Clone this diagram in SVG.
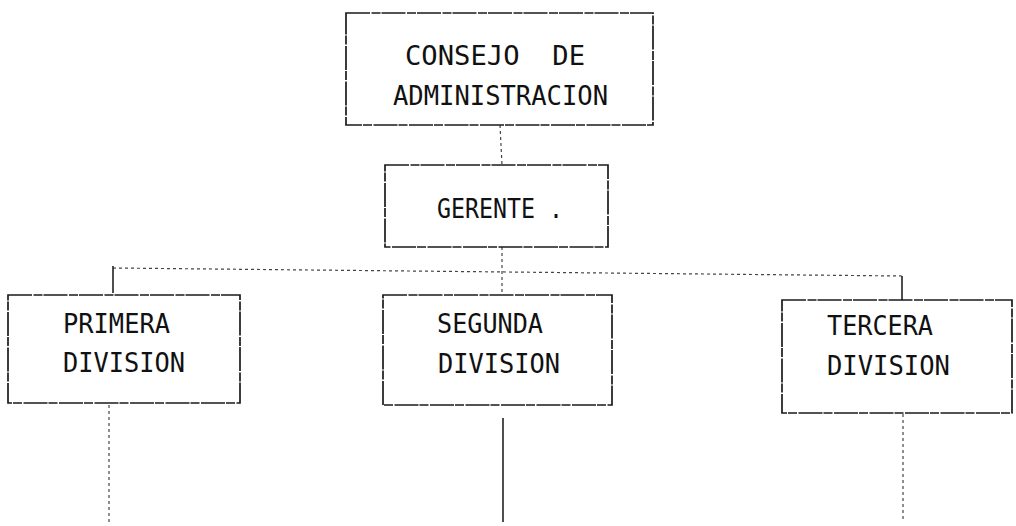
<svg xmlns="http://www.w3.org/2000/svg" width="1016" height="526" viewBox="0 0 1016 526">
<style>
.box{fill:none;stroke:#1a1a1a;stroke-width:1.7;stroke-dasharray:24 1.5 9 1}
.lbl{font-family:"DejaVu Sans Mono","Liberation Mono",monospace;font-size:26px;fill:#111}
.con{fill:none;stroke:#444;stroke-width:1.2;stroke-dasharray:3 3}
.conS{fill:none;stroke:#222;stroke-width:1.6}
</style>
<rect width="1016" height="526" fill="#ffffff"/>
<g id="connectors">
<line class="con" x1="500" y1="125" x2="502" y2="165"/>
<line class="con" x1="502" y1="247" x2="502" y2="295"/>
<line class="con" x1="113" y1="268" x2="902" y2="276"/>
<line class="conS" x1="113" y1="266" x2="113" y2="293"/>
<line class="conS" x1="902" y1="276" x2="902" y2="300"/>
<line class="con" x1="109" y1="405" x2="109" y2="522"/>
<line class="conS" x1="503" y1="418" x2="503" y2="522"/>
<line class="con" x1="903" y1="414" x2="903" y2="522"/>
</g>
<g id="consejo">
<rect class="box" x="346" y="13" width="307" height="112"/>
<text class="lbl" x="405" y="65" xml:space="preserve" textLength="180" lengthAdjust="spacingAndGlyphs">CONSEJO  DE</text>
<text class="lbl" x="393" y="105" textLength="215" lengthAdjust="spacingAndGlyphs">ADMINISTRACION</text>
</g>
<g id="gerente">
<rect class="box" x="385" y="165" width="223" height="82"/>
<text class="lbl" x="437" y="218" xml:space="preserve" textLength="126" lengthAdjust="spacingAndGlyphs">GERENTE .</text>
</g>
<g id="primera">
<rect class="box" x="8" y="295" width="232" height="108"/>
<text class="lbl" x="63" y="333" textLength="107" lengthAdjust="spacingAndGlyphs">PRIMERA</text>
<text class="lbl" x="63" y="372" textLength="122" lengthAdjust="spacingAndGlyphs">DIVISION</text>
</g>
<g id="segunda">
<rect class="box" x="383" y="295" width="229" height="110"/>
<text class="lbl" x="437" y="333" textLength="106" lengthAdjust="spacingAndGlyphs">SEGUNDA</text>
<text class="lbl" x="438" y="373" textLength="122" lengthAdjust="spacingAndGlyphs">DIVISION</text>
</g>
<g id="tercera">
<rect class="box" x="782" y="300" width="230" height="113"/>
<text class="lbl" x="827" y="335" textLength="106" lengthAdjust="spacingAndGlyphs">TERCERA</text>
<text class="lbl" x="827" y="375" textLength="123" lengthAdjust="spacingAndGlyphs">DIVISION</text>
</g>
</svg>
